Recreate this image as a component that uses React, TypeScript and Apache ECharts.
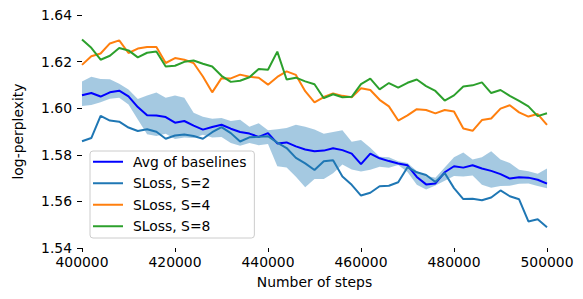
import React, { useEffect, useRef } from "react";
import * as echarts from "echarts";

const START_STEP = 400000;
const STEP_SIZE = 2000;

const avgBaselines = [1.6056, 1.6065, 1.6050, 1.6068, 1.6075, 1.6051, 1.6005, 1.5970, 1.5969, 1.5962, 1.5938, 1.5945, 1.5925, 1.5908, 1.5919, 1.5929, 1.5912, 1.5898, 1.5891, 1.5877, 1.5893, 1.5849, 1.5853, 1.5836, 1.5823, 1.5815, 1.5818, 1.5828, 1.5820, 1.5805, 1.5760, 1.5805, 1.5785, 1.5773, 1.5763, 1.5755, 1.5705, 1.5673, 1.5677, 1.5725, 1.5751, 1.5745, 1.5755, 1.5741, 1.5731, 1.5717, 1.5698, 1.5704, 1.5702, 1.5693, 1.5676];

const bandUpper = [1.6115, 1.6135, 1.6125, 1.6124, 1.6105, 1.6080, 1.6040, 1.6055, 1.6067, 1.6045, 1.6055, 1.6045, 1.5980, 1.5963, 1.5955, 1.5958, 1.5945, 1.5950, 1.5920, 1.5935, 1.5905, 1.5910, 1.5915, 1.5929, 1.5920, 1.5909, 1.5890, 1.5898, 1.5905, 1.5856, 1.5863, 1.5830, 1.5792, 1.5790, 1.5772, 1.5765, 1.5730, 1.5710, 1.5702, 1.5745, 1.5790, 1.5810, 1.5780, 1.5790, 1.5815, 1.5780, 1.5765, 1.5736, 1.5729, 1.5719, 1.5741];

const bandLower = [1.6009, 1.6014, 1.6026, 1.6041, 1.6045, 1.6016, 1.5951, 1.5888, 1.5881, 1.5890, 1.5868, 1.5874, 1.5872, 1.5886, 1.5874, 1.5876, 1.5851, 1.5839, 1.5851, 1.5841, 1.5846, 1.5751, 1.5746, 1.5706, 1.5661, 1.5696, 1.5696, 1.5721, 1.5758, 1.5737, 1.5728, 1.5736, 1.5749, 1.5744, 1.5756, 1.5726, 1.5671, 1.5651, 1.5668, 1.5689, 1.5709, 1.5707, 1.5711, 1.5671, 1.5659, 1.5666, 1.5667, 1.5676, 1.5677, 1.5666, 1.5656];

const sloss2 = [1.5858, 1.5872, 1.5967, 1.5947, 1.5942, 1.5917, 1.5902, 1.5910, 1.5899, 1.5869, 1.5883, 1.5887, 1.5881, 1.5869, 1.5897, 1.5919, 1.5893, 1.5857, 1.5875, 1.5877, 1.5880, 1.5852, 1.5829, 1.5787, 1.5763, 1.5735, 1.5772, 1.5777, 1.5707, 1.5671, 1.5625, 1.5637, 1.5665, 1.5667, 1.5682, 1.5747, 1.5725, 1.5713, 1.5683, 1.5722, 1.5657, 1.5610, 1.5611, 1.5605, 1.5617, 1.5647, 1.5622, 1.5609, 1.5514, 1.5523, 1.5489];

const sloss4 = [1.6186, 1.6223, 1.6235, 1.6278, 1.6291, 1.6237, 1.6256, 1.6263, 1.6263, 1.6194, 1.6215, 1.6208, 1.6194, 1.6136, 1.6068, 1.6129, 1.6128, 1.6144, 1.6135, 1.6131, 1.6101, 1.6134, 1.6158, 1.6143, 1.6073, 1.6025, 1.6048, 1.6063, 1.6053, 1.6047, 1.6086, 1.6078, 1.6036, 1.6008, 1.5947, 1.5969, 1.5996, 1.5992, 1.5978, 1.5992, 1.5986, 1.5913, 1.5903, 1.5949, 1.5956, 1.5998, 1.6013, 1.5982, 1.5964, 1.5975, 1.5928];

const sloss8 = [1.6295, 1.6259, 1.6208, 1.6225, 1.6258, 1.6248, 1.6218, 1.6238, 1.6243, 1.6179, 1.6182, 1.6199, 1.6205, 1.6191, 1.6179, 1.6139, 1.6113, 1.6118, 1.6133, 1.6168, 1.6165, 1.6243, 1.6123, 1.6131, 1.6115, 1.6103, 1.6043, 1.6060, 1.6047, 1.6049, 1.6103, 1.6127, 1.6081, 1.6108, 1.6088, 1.6109, 1.6123, 1.6095, 1.6074, 1.6033, 1.6055, 1.6093, 1.6098, 1.6111, 1.6065, 1.6078, 1.6053, 1.6031, 1.6008, 1.5966, 1.5978];

const steps = avgBaselines.map((_, i) => START_STEP + i * STEP_SIZE);

const seriesNames = ["Avg of baselines", "SLoss, S=2", "SLoss, S=4", "SLoss, S=8"];
const seriesColors = ["#0000ff", "#1f77b4", "#ff7f0e", "#2ca02c"];
const BAND_COLOR = "rgba(31,119,180,0.4)";

const FONT = "DejaVu Sans";

export default function App() {
  const ref = useRef<HTMLDivElement>(null);
  useEffect(() => {
    if (!ref.current) return;
    const chart = echarts.init(ref.current, null, { renderer: "svg" });
    const pairs = (arr: number[]) => arr.map((v, i) => [steps[i], v]);
    const lineSeries = (name: string, arr: number[], color: string, z: number) => ({
      name,
      type: "line",
      data: pairs(arr),
      showSymbol: false,
      symbol: "none",
      lineStyle: { color, width: 2 },
      itemStyle: { color },
      z,
    });
    chart.setOption({
      animation: false,
      textStyle: { fontFamily: FONT },
      grid: { left: 82, right: 36, top: 15, bottom: 51, containLabel: false },
      legend: {
        data: seriesNames,
        orient: "vertical",
        left: 90,
        top: 151,
        padding: [0, 8, 1, 3],
        itemGap: 0,
        itemWidth: 30,
        itemHeight: 2,
        icon: "rect",
        backgroundColor: "rgba(255,255,255,0.8)",
        borderColor: "#cccccc",
        borderWidth: 1,
        borderRadius: 3,
        textStyle: {
          fontFamily: FONT,
          fontSize: 13.9,
          color: "#000",
          lineHeight: 21.5,
          padding: [0, 0, 0, 5],
        },
      },
      xAxis: {
        type: "value",
        min: 400000,
        max: 500000,
        interval: 20000,
        name: "Number of steps",
        nameLocation: "middle",
        nameGap: 27,
        nameTextStyle: { fontFamily: FONT, fontSize: 13.9, color: "#000" },
        axisLine: { show: false },
        axisTick: { show: true, length: 4, lineStyle: { color: "#000", width: 1 } },
        axisLabel: {
          fontFamily: FONT,
          fontSize: 13.9,
          color: "#000",
          margin: 7,
          formatter: (v: number) => String(v),
        },
        splitLine: { show: false },
      },
      yAxis: {
        type: "value",
        min: 1.54,
        max: 1.64,
        interval: 0.02,
        name: "log-perplexity",
        nameLocation: "middle",
        nameGap: 57,
        nameTextStyle: { fontFamily: FONT, fontSize: 13.9, color: "#000" },
        axisLine: { show: false },
        axisTick: { show: true, length: 5, lineStyle: { color: "#000", width: 1 } },
        axisLabel: {
          fontFamily: FONT,
          fontSize: 13.9,
          color: "#000",
          margin: 10,
          formatter: (v: number) => v.toFixed(2),
        },
        splitLine: { show: false },
      },
      series: [
        {
          name: "band",
          type: "custom",
          silent: true,
          z: 1,
          data: [[steps[0], bandLower[0], bandUpper[0]]],
          renderItem: (_params: any, api: any) => {
            const top = bandUpper.map((u, i) => api.coord([steps[i], u]));
            const bottom = bandLower
              .map((l, i) => api.coord([steps[i], l]))
              .reverse();
            return {
              type: "polygon",
              shape: { points: top.concat(bottom) },
              style: { fill: BAND_COLOR, stroke: "none" },
            };
          },
        },
        lineSeries(seriesNames[0], avgBaselines, seriesColors[0], 3),
        lineSeries(seriesNames[1], sloss2, seriesColors[1], 4),
        lineSeries(seriesNames[2], sloss4, seriesColors[2], 5),
        lineSeries(seriesNames[3], sloss8, seriesColors[3], 6),
      ],
    });
    return () => chart.dispose();
  }, []);
  return (
    <div
      ref={ref}
      style={{ position: "fixed", left: 0, top: 0, width: 583, height: 299, background: "#fff" }}
    />
  );
}
